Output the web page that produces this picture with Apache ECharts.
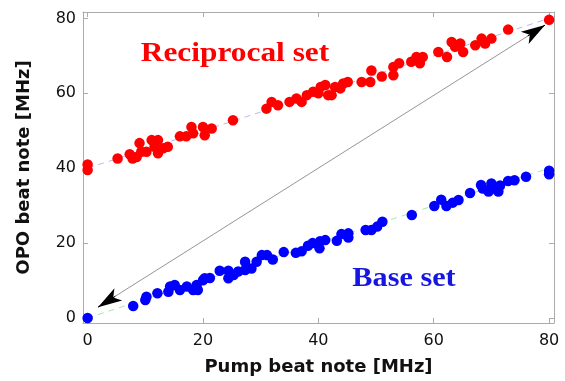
<!DOCTYPE html>
<html>
<head>
<meta charset="utf-8">
<script src="https://cdn.jsdelivr.net/npm/echarts@6/dist/echarts.min.js"></script>
<style>
  html, body { margin: 0; padding: 0; background: #fff; }
  #chart { width: 565px; height: 381px; }
</style>
</head>
<body>
<div id="chart"></div>
<script>
// tick values shared by both axes
const tickValues = [0, 20, 40, 60, 80];

// measured points, [pump beat, OPO beat] in MHz
const reciprocalSet = [
  [0, 41], [0, 39.5], [5.2, 42.6], [7.3, 43.7], [7.8, 42.6], [8.5, 43], [9, 46.7], [9.3, 44.4],
  [10.2, 44.4], [11.1, 47.5], [12.2, 47.5], [11.6, 45.7], [12.2, 44], [13.1, 45.3], [13.9, 45.7],
  [16, 48.5], [17.1, 48.5], [18, 51], [18.3, 49.3], [20, 51], [20.3, 48.8], [21.5, 50.6],
  [25.2, 52.8], [31, 55.9], [31.9, 57.7], [33, 56.8], [35, 57.7], [36.2, 58.6], [37.1, 57.7],
  [38, 59.5], [39.1, 60.4], [40, 60], [40.4, 61.7], [41.2, 62.2], [41.7, 59.5], [42.3, 59.5],
  [42.9, 61.7], [43.8, 61.3], [44.3, 62.6], [45.1, 63], [47.5, 63], [49, 63], [49.2, 66.1],
  [51, 64.5], [53, 64.8], [53, 67], [54, 68], [56.1, 68.4], [57, 69.7], [57.6, 68], [58.1, 69.7],
  [60.8, 71], [62.3, 69.7], [63.1, 73.7], [63.7, 72.4], [64.6, 73.3], [65.1, 71], [67.2, 72.8],
  [68.3, 74.6], [68.9, 73.3], [70, 74.6], [72.9, 77], [80, 79.6]
];

const baseSet = [
  [0, 0], [7.9, 3.2], [10, 4.8], [10.2, 5.7], [12.1, 6.6], [14, 7], [14.3, 8.4], [15.1, 8.8],
  [16, 7.5], [17.2, 8.4], [18.3, 7.5], [18.9, 8.8], [19.1, 7.5], [20, 10.1], [20.3, 10.6],
  [21.2, 10.7], [22.9, 12.6], [24.4, 12.6], [24.4, 10.6], [25.3, 11.5], [26.1, 12.4], [27.3, 15],
  [27.3, 12.8], [28.4, 13.2], [29.3, 15], [30.2, 16.8], [31.1, 16.8], [32.1, 15.6], [34, 17.6],
  [36.1, 17.4], [37.1, 17.8], [38.2, 19.3], [39, 20], [40.2, 18.6], [40.3, 20.5], [41.2, 20.8],
  [43.2, 20.6], [44, 22.4], [45.2, 22.6], [45.2, 21.5], [48.2, 23.5], [49.2, 23.5], [50.2, 24.4],
  [51.1, 25.7], [56.2, 27.5], [60.1, 29.9], [61.3, 31.6], [62.2, 29.9], [63.3, 30.8], [64.3, 31.5],
  [66.3, 33.4], [68.2, 35.5], [68.5, 34.6], [69.5, 33.8], [70, 35.9], [70.6, 34.6], [71.2, 33.8],
  [71.5, 35.4], [72.9, 36.6], [74, 36.8], [76, 37.7], [80, 39.3], [80, 38.4]
];

// fitted lines (end points)
const fitX = [0, 80];
const reciprocalFit = [40, 80];
const baseFit = [0, 40];

// diagonal double arrow, from / to
const diagonalEnds = [[1.8, 2.9], [79.3, 78.2]];

const chart = echarts.init(document.getElementById('chart'));

const font = '"DejaVu Sans", Arial, sans-serif';
const boxColor = '#ababab';

const makeX = (pos, show) => ({
  type: 'value',
  position: pos,
  min: -0.8,
  max: 80.85,
  axisLine: { show: true, onZero: false, lineStyle: { color: boxColor, width: 1 } },
  axisTick: { show: true, inside: true, length: 5, customValues: tickValues, lineStyle: { color: boxColor } },
  axisLabel: {
    show: show, customValues: tickValues, fontSize: 16, fontFamily: font,
    color: '#111', margin: 10
  },
  splitLine: { show: false }
});

const makeY = (pos, show) => ({
  type: 'value',
  position: pos,
  min: -1.33,
  max: 81.7,
  axisLine: { show: true, onZero: false, lineStyle: { color: boxColor, width: 1 } },
  axisTick: { show: true, inside: true, length: 5, customValues: tickValues, lineStyle: { color: boxColor } },
  axisLabel: {
    show: show, customValues: tickValues, fontSize: 16, fontFamily: font,
    color: '#111', margin: 7
  },
  splitLine: { show: false }
});

const xBottom = makeX('bottom', true);
xBottom.name = 'Pump beat note [MHz]';
xBottom.nameLocation = 'middle';
xBottom.nameGap = 35;
xBottom.nameTextStyle = { fontSize: 18, fontWeight: 'bold', fontFamily: font, color: '#111' };

const yLeft = makeY('left', true);
yLeft.name = 'OPO beat note [MHz]';
yLeft.nameLocation = 'middle';
yLeft.nameGap = 50;
yLeft.nameTextStyle = { fontSize: 18, fontWeight: 'bold', fontFamily: font, color: '#111' };

const option = {
  animation: false,
  backgroundColor: '#fff',
  grid: { left: 83, right: 11, top: 12, bottom: 58, outerBoundsMode: 'none' },
  xAxis: [xBottom, makeX('top', false)],
  yAxis: [yLeft, makeY('right', false)],
  graphic: [
    {
      type: 'text', x: 235, y: 53.5, scaleX: 1.12,
      style: {
        text: 'Reciprocal set', fill: '#ff0000', fontSize: 28, fontWeight: 'bold',
        fontFamily: '"Liberation Serif", "Times New Roman", serif',
        align: 'center', verticalAlign: 'middle'
      }
    },
    {
      type: 'text', x: 404, y: 279, scaleX: 1.12,
      style: {
        text: 'Base set', fill: '#1616e2', fontSize: 27, fontWeight: 'bold',
        fontFamily: '"Liberation Serif", "Times New Roman", serif',
        align: 'center', verticalAlign: 'middle'
      }
    }
  ],
  series: [
    {
      type: 'line',
      data: fitX.map((x, i) => [x, reciprocalFit[i]]),
      symbol: 'none',
      silent: true,
      lineStyle: { color: '#b8b8ee', width: 1, type: [6, 5] },
      z: 1,
      markLine: {
        silent: true,
        symbol: 'none',
        label: { show: false },
        data: [
          [
            { coord: diagonalEnds[0], symbol: 'none', lineStyle: { color: '#7a7a7a', width: 0.8, type: 'solid' } },
            { coord: diagonalEnds[1], symbol: 'none' }
          ],
          [
            { coord: [diagonalEnds[0][0] + 3, diagonalEnds[0][1] + 2.9], symbol: 'none', lineStyle: { color: '#000', width: 1, type: 'solid' } },
            { coord: diagonalEnds[0], symbol: 'arrow', symbolSize: [11, 24] }
          ],
          [
            { coord: [diagonalEnds[1][0] - 3, diagonalEnds[1][1] - 2.9], symbol: 'none', lineStyle: { color: '#000', width: 1, type: 'solid' } },
            { coord: diagonalEnds[1], symbol: 'arrow', symbolSize: [11, 24] }
          ]
        ]
      }
    },
    {
      type: 'line',
      data: fitX.map((x, i) => [x, baseFit[i]]),
      symbol: 'none',
      silent: true,
      lineStyle: { color: '#a6eaa6', width: 1, type: [6, 5] },
      z: 1
    },
    {
      type: 'scatter',
      name: 'Reciprocal set',
      data: reciprocalSet,
      symbolSize: 10.5,
      itemStyle: { color: '#ff0000', opacity: 1 },
      z: 3
    },
    {
      type: 'scatter',
      name: 'Base set',
      data: baseSet,
      symbolSize: 10.5,
      itemStyle: { color: '#0000ff', opacity: 1 },
      z: 3
    }
  ]
};

chart.setOption(option);
</script>
</body>
</html>
